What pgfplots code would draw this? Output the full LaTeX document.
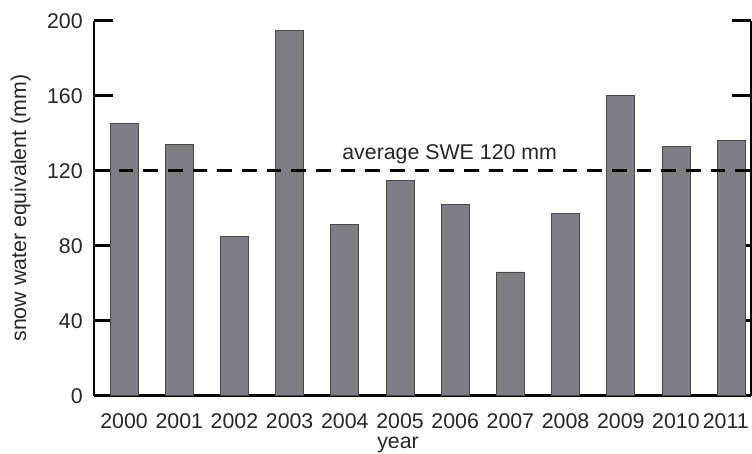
\documentclass[border=0pt]{standalone}
\usepackage{fontspec}
\setmainfont{Liberation Sans}
\usepackage{pgfplots}
\pgfplotsset{compat=1.18}
\definecolor{barfill}{RGB}{123,127,131}
\definecolor{baredge}{RGB}{72,74,76}
\definecolor{txt}{RGB}{38,38,38}
\begin{document}
\begin{tikzpicture}
\begin{axis}[
  scale only axis,
  width=492.75pt, height=281.25pt,
  xmin=-0.545, xmax=11.36,
  ymin=0, ymax=200,
  axis x line*=bottom,
  axis y line*=box,
  axis line style={line width=1.9pt, black},
  ytick={0,40,80,120,160,200},
  ytick pos=both,
  yticklabel pos=left,
  tick align=inside,
  major tick length=14pt,
  major tick style={line width=1.9pt, black},
  xtick={0,1,2,3,4,5,6,7,8,9,10,11},
  xticklabels={2000,2001,2002,2003,2004,2005,2006,2007,2008,2009,2010,\hspace*{-8pt}2011},
  xtick style={draw=none},
  /pgf/number format/assume math mode=true,
  tick label style={font=\fontsize{16}{19}\selectfont, text=txt},
  yticklabel style={xshift=-5pt},
  xticklabel style={yshift=-10pt},
  label style={font=\fontsize{16}{19}\selectfont, text=txt},
  xlabel={year},
  xlabel style={at={(axis description cs:0.4627,0)}, anchor=north, yshift=-27.5pt},
  ylabel={snow water equivalent (mm)},
  ylabel style={at={(axis description cs:0,0.5)}, anchor=center, yshift=55pt},
  clip=false,
]
\addplot[ybar, bar width=21pt, bar shift=0pt, fill=barfill, draw=baredge, line width=0.6pt]
  coordinates {
    (0,145) (1,134) (2,85) (3,195) (4,91.5) (5,115)
    (6,102) (7,66) (8,97) (9,160) (10,133) (11,136)
  };
\addplot[black, line width=2.25pt, dash pattern=on 11pt off 7.5pt]
  coordinates {(-0.545,120) (11.36,120)};
\node[text=txt, font=\fontsize{16}{19}\selectfont] at (axis cs:5.9,129) {average SWE 120 mm};
\end{axis}
\pgfresetboundingbox
\path[use as bounding box] ([xshift=-70.5pt,yshift=-43.5pt]current axis.south west) rectangle ([xshift=0.75pt,yshift=15.5pt]current axis.north east);
\end{tikzpicture}
\end{document}
